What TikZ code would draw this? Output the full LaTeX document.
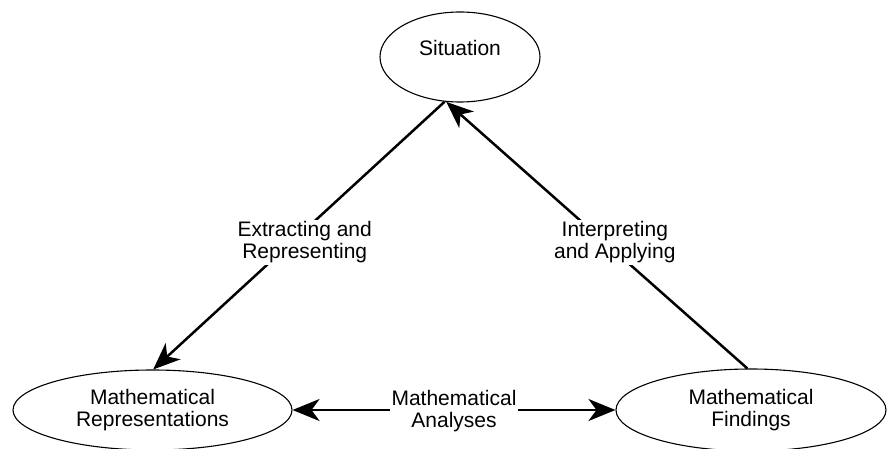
\documentclass[tikz,border=0pt]{standalone}
\usepackage{fontspec}
\setmainfont{Liberation Sans}
\usetikzlibrary{shapes.geometric,arrows.meta}
\begin{document}
\begin{tikzpicture}[x=1pt,y=-1pt,
  state/.style={ellipse,draw,line width=1.1pt,inner sep=0pt,align=center,
    font=\fontsize{21}{22.5}\selectfont},
  conn/.style={line width=2.5pt},
  head/.tip={Stealth[length=27pt,width=22pt,inset=8pt]},
  tip/.style={-head},
  lbl/.style={fill=white,inner sep=1.5pt,align=center,font=\fontsize{21}{22.5}\selectfont}]
\useasboundingbox (0,0) rectangle (888,449);
\clip (0,0) rectangle (888,449);
\node[state,minimum width=160pt,minimum height=90pt] (sit) at (460,57) {Situation\\[-5pt]};
\node[state,minimum width=279pt,minimum height=80pt] (rep) at (152.5,410) {Mathematical\\Representations};
\node[state,minimum width=270pt,minimum height=82pt] (fin) at (751,410) {Mathematical\\Findings};
\draw[conn,tip] (sit.-109) -- node[lbl,pos=0.48,yshift=-12pt]{Extracting and\\Representing} (rep.89);
\draw[conn,tip] (fin.95) -- node[lbl,pos=0.5,xshift=18pt,yshift=-7pt]{Interpreting\\and Applying} (sit.-107);
\draw[conn,head-head] (rep.east) -- node[lbl,yshift=-1pt]{Mathematical\\Analyses} (fin.west);
\end{tikzpicture}
\end{document}
